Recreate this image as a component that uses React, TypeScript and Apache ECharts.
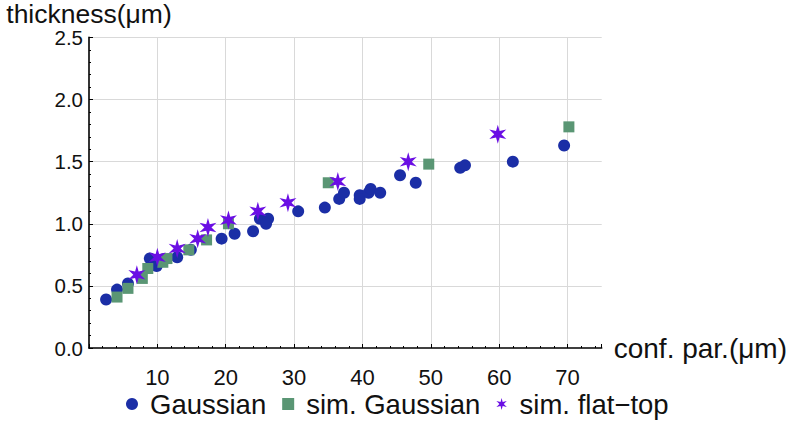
import React, { useEffect, useRef } from "react";
import * as echarts from "echarts";

// Gaussian (measured)
const gaussX = [2.5, 4.1, 5.7, 8.9, 9.9, 12.9, 14.9, 19.4, 21.3, 24.0, 25.0, 26.2, 25.9, 30.6, 34.5, 36.6, 37.3, 39.6, 39.6, 40.9, 41.2, 42.6, 45.5, 47.8, 54.3, 55.0, 62.0, 69.5];
const gaussY = [0.39, 0.47, 0.52, 0.72, 0.66, 0.73, 0.79, 0.88, 0.92, 0.94, 1.04, 1.04, 1.0, 1.1, 1.13, 1.2, 1.25, 1.23, 1.2, 1.25, 1.28, 1.25, 1.39, 1.33, 1.45, 1.47, 1.5, 1.63];

// sim. Gaussian
const simGaussX = [4.1, 5.7, 7.8, 8.6, 10.8, 11.4, 14.6, 17.2, 20.4, 35.0, 49.7, 70.2];
const simGaussY = [0.41, 0.48, 0.56, 0.64, 0.69, 0.72, 0.79, 0.87, 1.0, 1.33, 1.48, 1.78];

// sim. flat-top
const flatX = [7.0, 10.0, 12.9, 15.9, 17.4, 20.4, 24.7, 29.1, 36.4, 46.7, 59.8];
const flatY = [0.59, 0.73, 0.8, 0.88, 0.97, 1.03, 1.1, 1.17, 1.34, 1.5, 1.72];

const seriesNames = ["Gaussian", "sim. Gaussian", "sim. flat\u2212top"];
const xTicks = [10, 20, 30, 40, 50, 60, 70];

const FONT = "'Liberation Sans', Arial, sans-serif";
const STAR =
  "path://M50 0 L59 33 L93.3 25 L68 50 L93.3 75 L59 67 L50 100 L41 67 L6.7 75 L32 50 L6.7 25 L41 33 Z";

const zip = (xs: number[], ys: number[]) => xs.map((x, i) => [x, ys[i]]);

export default function App() {
  const ref = useRef<HTMLDivElement>(null);
  useEffect(() => {
    if (!ref.current) return;
    const chart = echarts.init(ref.current, null, { renderer: "svg" });
    chart.setOption({
      animation: false,
      backgroundColor: "#fff",
      grid: { left: 89, top: 37, width: 518, height: 311 },
      xAxis: {
        type: "value",
        min: 0,
        max: 75,
        interval: 10,
        name: "conf. par.(μm)",
        nameLocation: "end",
        nameGap: 12,
        nameTextStyle: { fontFamily: FONT, fontSize: 28, color: "#111", verticalAlign: "middle", padding: [4, 0, 0, 0] },
        axisLine: { show: true, onZero: false, lineStyle: { color: "#000", width: 1.6 } },
        axisTick: { show: true, inside: true, length: 4, lineStyle: { color: "#000", width: 1 } },
        minorTick: { show: true, splitNumber: 5, length: 2, lineStyle: { color: "#000", width: 1 } },
        axisLabel: {
          fontFamily: FONT,
          fontSize: 22,
          color: "#111",
          margin: 18,
          showMaxLabel: false,
          formatter: (v: number) => (xTicks.includes(v) ? String(v) : ""),
        },
        splitLine: { show: true, showMinLine: false, showMaxLine: false, lineStyle: { color: "#d9d9d9", width: 1 } },
      },
      yAxis: {
        type: "value",
        min: 0,
        max: 2.5,
        interval: 0.5,
        name: "thickness(μm)",
        nameLocation: "end",
        nameGap: 10,
        nameTextStyle: { fontFamily: FONT, fontSize: 26.5, lineHeight: 26, color: "#111", align: "center" },
        axisLine: { show: true, onZero: false, lineStyle: { color: "#000", width: 1.6 } },
        axisTick: { show: true, inside: true, length: 4, lineStyle: { color: "#000", width: 1 } },
        minorTick: { show: true, splitNumber: 5, length: 2, lineStyle: { color: "#000", width: 1 } },
        axisLabel: {
          fontFamily: FONT,
          fontSize: 20.5,
          lineHeight: 18,
          color: "#111",
          margin: 6,
          formatter: (v: number) => v.toFixed(1),
        },
        splitLine: { show: true, showMinLine: false, lineStyle: { color: "#d9d9d9", width: 1 } },
      },
      legend: {
        left: 121,
        top: 385,
        itemWidth: 12,
        itemHeight: 12,
        itemGap: 16,
        textStyle: { fontFamily: FONT, fontSize: 27.5, color: "#111", padding: [0, 0, 5, 7] },
        data: [
          { name: seriesNames[0], icon: "circle" },
          { name: seriesNames[1], icon: "rect", itemStyle: { borderWidth: 0 } },
          { name: seriesNames[2], icon: STAR },
        ],
      },
      series: [
        {
          name: seriesNames[0],
          type: "scatter",
          data: zip(gaussX, gaussY),
          symbol: "circle",
          symbolSize: 12,
          itemStyle: { color: "#1b2ea6", opacity: 1 },
          z: 2,
        },
        {
          name: seriesNames[1],
          type: "scatter",
          data: zip(simGaussX, simGaussY),
          symbol: "rect",
          symbolSize: 11,
          itemStyle: { color: "#5a9674", opacity: 1 },
          z: 3,
        },
        {
          name: seriesNames[2],
          type: "scatter",
          data: zip(flatX, flatY),
          symbol: STAR,
          symbolSize: [17, 19],
          itemStyle: { color: "#6a0ee4", opacity: 1 },
          z: 4,
        },
      ],
    });
    return () => chart.dispose();
  }, []);
  return <div ref={ref} style={{ width: 790, height: 422, position: "absolute", left: 0, top: 0 }} />;
}
